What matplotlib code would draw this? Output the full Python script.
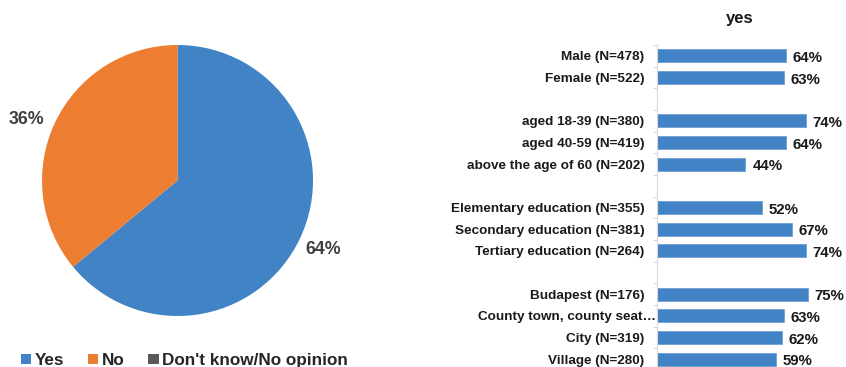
import matplotlib
matplotlib.use("Agg")
import matplotlib.pyplot as plt
from matplotlib.patches import Patch
from matplotlib.transforms import ScaledTranslation
import numpy as np

plt.rcParams['font.family'] = ['Liberation Sans', 'DejaVu Sans']
plt.rcParams['font.weight'] = 'bold'

# Pie data
pie_labels = ["Yes", "No", "Don't know/No opinion"]
pie_values = [64, 36, 0]
pie_colors = ["#4183c4", "#ed7d31", "#595959"]

# Bar data
bar_labels = ["Male (N=478)", "Female (N=522)", "",
              "aged 18-39 (N=380)", "aged 40-59 (N=419)", "above the age of 60 (N=202)", "",
              "Elementary education (N=355)", "Secondary education (N=381)", "Tertiary education (N=264)", "",
              "Budapest (N=176)", "County town, county seat\u2026", "City (N=319)", "Village (N=280)"]
bar_values = [64, 63, None, 74, 64, 44, None, 52, 67, 74, None, 75, 63, 62, 59]
bar_title = "yes"

W, H = 846, 367
fig = plt.figure(figsize=(W / 100, H / 100), dpi=100)

# ---- Pie ----
cx, cy, r = 177.5, 180.5, 135.5
axp = fig.add_axes([(cx - r) / W, (H - cy - r) / H, 2 * r / W, 2 * r / H])
wedges, texts, autotexts = axp.pie(
    pie_values, colors=pie_colors, startangle=90, counterclock=False,
    autopct=lambda p: f"{p:.0f}%" if p > 0 else "", pctdistance=1.19,
    textprops=dict(fontsize=12.8, fontweight='bold', color='#404040'))
axp.set_xlim(-1, 1)
axp.set_ylim(-1, 1)
# nudge the "No" label a little further round, as in the reference
autotexts[1].set_position((-1.115, 0.45))

handles = [Patch(facecolor=c, edgecolor='none') for c in pie_colors]
fig.legend(handles, pie_labels, loc='center left', bbox_to_anchor=(21 / W, 1 - 360.5 / H),
           ncol=3, frameon=False, borderpad=0, borderaxespad=0,
           handlelength=0.6, handleheight=0.6, handletextpad=0.2, columnspacing=1.4,
           prop=dict(size=12.3, weight='bold'), labelcolor='#262626')

# ---- Bars ----
ax_left, ax_top = 657, 45
ax_h = 325
axb = fig.add_axes([ax_left / W, (H - ax_top - ax_h) / H, (W - ax_left) / W, ax_h / H])
pos = np.arange(len(bar_labels))
idx = [i for i, v in enumerate(bar_values) if v is not None]
vals = [bar_values[i] for i in idx]
bars = axb.barh([pos[i] for i in idx], vals, height=0.6, color="#4183c4",
                edgecolor="#6f9fd3", linewidth=0.6)
for rect, v in zip(bars, vals):
    axb.annotate(f"{v}%", (rect.get_width(), rect.get_y() + rect.get_height() / 2),
                 xytext=(5, -1.5), textcoords='offset points', ha='left', va='center',
                 fontsize=10.8, fontweight='bold', color='#1a1a1a')
axb.set_xlim(0, (W - ax_left) / 2.01)
axb.set_ylim(len(bar_labels) - 0.5, -0.5)
axb.set_yticks(pos)
axb.set_yticklabels(bar_labels, fontsize=9.7, fontweight='bold', color='#1a1a1a')
axb.tick_params(axis='y', which='major', length=0, pad=9)
axb.set_yticks(np.arange(-0.5, len(bar_labels)), minor=True)
axb.tick_params(axis='y', which='minor', length=3, color='#d9d9d9', width=0.8)
axb.set_xticks([])
for s in ['top', 'right', 'bottom']:
    axb.spines[s].set_visible(False)
axb.spines['left'].set_color('#d9d9d9')
axb.spines['left'].set_linewidth(0.8)
axb.text((740 - ax_left) / (W - ax_left), 1 + 27 / ax_h, bar_title, transform=axb.transAxes,
         ha='center', va='center', fontsize=12, fontweight='bold', color='#1a1a1a')

# the truncated label runs up to the axis line in the reference
for lab in axb.get_yticklabels():
    if lab.get_text().endswith("\u2026"):
        lab.set_transform(lab.get_transform() + ScaledTranslation(0.12, 0, fig.dpi_scale_trans))

fig.savefig("out.png", dpi=100)
